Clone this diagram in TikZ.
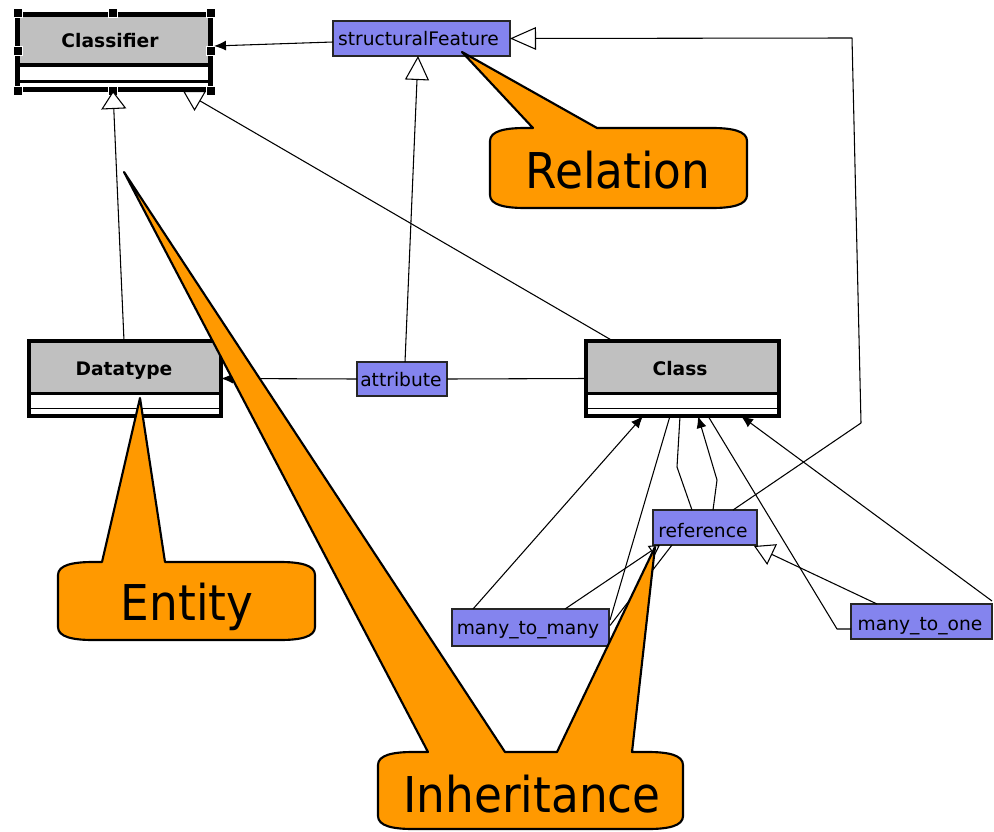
\documentclass[tikz,border=0pt]{standalone}
\usepackage{fontspec}
\setmainfont{DejaVu Sans}
\newfontfamily\calloutfont[FakeStretch=0.92]{DejaVu Sans}
\usetikzlibrary{arrows.meta,calc}
\definecolor{umlgray}{RGB}{192,192,192}
\definecolor{umlblue}{RGB}{132,132,238}
\definecolor{noteorange}{RGB}{255,153,0}

\begin{document}
\begin{tikzpicture}[x=0.75pt,y=-0.75pt,
  every node/.style={inner sep=0pt, outer sep=0pt},
  frame/.style={fill=white, minimum width=144.75pt, minimum height=56.25pt},
  featurebox/.style={draw=black!85, line width=0.9pt, fill=umlblue},
  namelabel/.style={font=\fontsize{14}{16}\selectfont, anchor=base},
  classlabel/.style={font=\fontsize{14}{16}\selectfont\bfseries, anchor=base},
  link/.style={draw=black, line width=0.8pt, line join=round},
  navarrow/.style={link, -{Latex[length=9pt,width=7.5pt]}},
  genarrow/.style n args={2}{link, -{Triangle[open, fill=white, length=#1, width=#2]}},
  handle/.style={fill=black, draw=white, line width=0.5pt, minimum size=6.75pt},
  note/.style={fill=noteorange, draw=black, line width=1.6pt, line join=round},
  notetext/.style={font=\calloutfont\fontsize{37}{40}\selectfont, anchor=base}
]
\fill[white] (0,0) rectangle (994,831);
\useasboundingbox (0,0) rectangle (994,831);

% ---------- classes ----------
% Classifier (selected, with handles)
\node[frame] (classifier) at (114,52) {};
\fill[umlgray] (classifier.north west) rectangle ($(classifier.north east)+(0,51)$);
\draw[line width=3pt] ($(classifier.north west)+(0,51)$) -- ($(classifier.north east)+(0,51)$);
\draw[line width=2.25pt] ($(classifier.south west)+(0,-7.5)$) -- ($(classifier.south east)+(0,-7.5)$);
\draw[line width=3.4pt] (classifier.north west) rectangle (classifier.south east);
\node[classlabel] (classifiername) at (110,48) {Classifier};
\foreach \hx/\hy [count=\i] in {17.5/12.5, 113/12.5, 211/12.5, 17.5/51, 211/51, 17.5/91, 113/91, 211/91}
  \node[handle] (h\i) at (\hx,\hy) {};

% Datatype
\node[frame, minimum width=144pt] (datatype) at (125,378.5) {};
\fill[umlgray] (datatype.north west) rectangle ($(datatype.north east)+(0,52.5)$);
\draw[line width=2.25pt] ($(datatype.north west)+(0,52.5)$) -- ($(datatype.north east)+(0,52.5)$);
\draw[line width=1.2pt] ($(datatype.south west)+(0,-7.5)$) -- ($(datatype.south east)+(0,-7.5)$);
\draw[line width=2.4pt] (datatype.north west) rectangle (datatype.south east);
\node[classlabel] (datatypename) at (124,375) {Datatype};

% Class
\node[frame] (cls) at (682.5,378.5) {};
\fill[umlgray] (cls.north west) rectangle ($(cls.north east)+(0,52.5)$);
\draw[line width=2.25pt] ($(cls.north west)+(0,52.5)$) -- ($(cls.north east)+(0,52.5)$);
\draw[line width=1.2pt] ($(cls.south west)+(0,-7.5)$) -- ($(cls.south east)+(0,-7.5)$);
\draw[line width=2.4pt] (cls.north west) rectangle (cls.south east);
\node[classlabel] (clsname) at (680,375) {Class};

% ---------- features ----------
\node[featurebox, minimum width=132.75pt, minimum height=26.25pt] (sf) at (421.5,38.5) {};
\node[namelabel] (sftext) at (418.5,46) {structuralFeature};
\node[featurebox, minimum width=67.5pt, minimum height=25.5pt] (attr) at (402,379) {};
\node[namelabel] (attrtext) at (401,386) {attribute};
\node[featurebox, minimum width=78pt, minimum height=26.25pt] (ref) at (705,527.5) {};
\node[namelabel] (reftext) at (703,537) {reference};
\node[featurebox, minimum width=117.75pt, minimum height=27.75pt] (mtm) at (530.5,627.5) {};
\node[namelabel] (mtmtext) at (528,634) {many\_to\_many};
\node[featurebox, minimum width=105.75pt, minimum height=26.25pt] (mto) at (921.5,621.5) {};
\node[namelabel] (mtotext) at (920,630) {many\_to\_one};

% ---------- connectors ----------
\coordinate (refbend) at (861,423);
\coordinate (refcorner) at (852,38);
\coordinate (reflow) at (677,467);
\coordinate (refhigh) at (717,480);
\coordinate (mtobend) at (837,629);

\draw[navarrow] ($(sf.west)+(0,3.5)$) -- ($(classifier.east)+(3.5,-6)$);
\draw[genarrow={13.5pt}{18.75pt}] ($(datatype.north)+(-1,0)$) -- ($(classifier.south)+(-1,1.5)$);
\draw[genarrow={15pt}{17pt}] ($(cls.north west)+(27,0)$) -- ($(classifier.south west)+(165.5,1.5)$);
\draw[genarrow={18pt}{18pt}] ($(attr.north)+(3,0)$) -- ($(sf.south)+(-3.5,0)$);
\draw[navarrow] (attr.west) -- (datatype.east);
\draw[link] (attr.east) -- (cls.west);
\draw[genarrow={19.5pt}{17pt}] ($(ref.north east)+(-24,0)$) -- (refbend) -- (refcorner) -- (sf.east);

\draw[navarrow] ($(mtm.north west)+(21,0)$) -- ($(cls.south west)+(57,0)$);
\draw[link] ($(cls.south west)+(84,0)$) -- ($(mtm.north east)+(1,11)$);
\draw[genarrow={8pt}{9pt}] ($(mtm.north west)+(113,0)$) -- ($(ref.south west)+(7,0)$);
\draw[link] ($(ref.south west)+(19,0)$) -- ($(mtm.east)+(1,-2)$);
\draw[link] ($(ref.north west)+(39,0)$) -- (reflow) -- ($(cls.south west)+(94,0)$);
\draw[navarrow] ($(ref.north west)+(60,0)$) -- (refhigh) -- ($(cls.south west)+(112,0)$);
\draw[link] ($(cls.south west)+(122,0)$) -- (mtobend) -- ($(mto.west)+(0,7.5)$);
\draw[genarrow={15pt}{17pt}] ($(mto.north west)+(26,0)$) -- ($(ref.south east)+(-3,1)$);
\draw[navarrow] ($(mto.north east)+(0,-3)$) -- ($(cls.south west)+(155,0)$);

% ---------- callouts ----------
\draw[note] (490,141) .. controls (490,131) and (505,128) .. (525,128)
  -- (533,128) -- (462,52) -- (597,128) -- (712,128)
  .. controls (732,128) and (747,131) .. (747,141) -- (747,195)
  .. controls (747,205) and (732,208) .. (712,208) -- (525,208)
  .. controls (505,208) and (490,205) .. (490,195) -- cycle;
\node[notetext] (relation) at (618,188) {Relation};

\draw[note] (58,575) .. controls (58,565) and (73,562) .. (93,562)
  -- (102,562) -- (140,398) -- (165,562) -- (280,562)
  .. controls (300,562) and (315,565) .. (315,575) -- (315,627)
  .. controls (315,637) and (300,640) .. (280,640) -- (93,640)
  .. controls (73,640) and (58,637) .. (58,627) -- cycle;
\node[notetext] (entity) at (187,620) {Entity};

\draw[note] (378,765) .. controls (378,755) and (393,752) .. (413,752)
  -- (428,752) -- (124,172) -- (505,752) -- (557,752) -- (655,547) -- (632,752) -- (648,752)
  .. controls (668,752) and (683,755) .. (683,765) -- (683,816)
  .. controls (683,826) and (668,829) .. (648,829) -- (413,829)
  .. controls (393,829) and (378,826) .. (378,816) -- cycle;
\node[notetext] (inheritance) at (532,812) {Inheritance};
\end{tikzpicture}
\end{document}
